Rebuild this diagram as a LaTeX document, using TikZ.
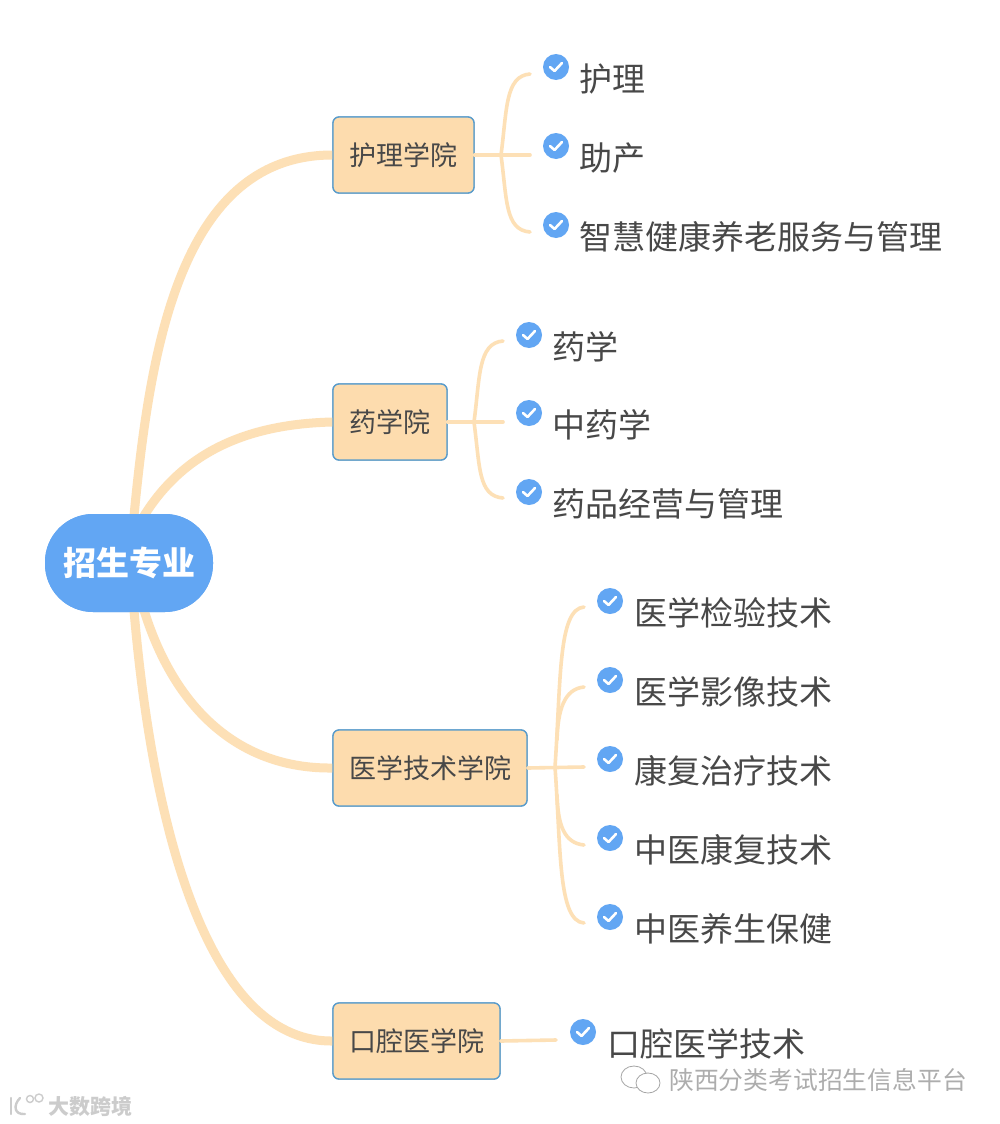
\documentclass[tikz,border=0pt]{standalone}
\usepackage{fontspec}
\setmainfont{Noto Sans CJK SC}
\newfontfamily\cjkbold{Noto Sans CJK SC Bold}
\definecolor{linkc}{HTML}{FDE0B6}
\definecolor{boxfill}{HTML}{FDDCAE}
\definecolor{boxline}{HTML}{5A9CCB}
\definecolor{rootc}{HTML}{62A6F3}
\definecolor{txtc}{HTML}{484848}
\tikzset{
 mainlink/.style={draw=linkc,line width=9pt,line cap=round},
 sublink/.style={draw=linkc,line width=3.6pt,line cap=round},
 rootnode/.style={fill=rootc,rounded corners=48pt,minimum width=168pt,minimum height=98pt,inner sep=0pt,text=white,font={\fontsize{33}{33}\selectfont\bfseries}},
 catnode/.style={draw=boxline,line width=1.3pt,fill=boxfill,rounded corners=6pt,minimum height=76pt,inner sep=0pt,text=txtc,font=\fontsize{27}{27}\selectfont},
 leafnode/.style={anchor=west,inner sep=0pt,text=txtc,font=\fontsize{33}{33}\selectfont},
 icon/.style={circle,fill=rootc,minimum size=26pt,inner sep=0pt},
 tick/.style={draw=white,line width=2.6pt,line cap=round,line join=round},
 wmark/.style={anchor=west,inner sep=0pt,text=black!32,font=\fontsize{24.8}{25}\selectfont},
 wmarkb/.style={anchor=west,inner sep=0pt,text=black!20,font=\fontsize{21}{21}\selectfont\bfseries},
 wline/.style={draw=black!35,line width=.8pt,fill=white}
}
\newcommand{\leafitem}[5]{%
 \node[icon] (#1i) at (#2,#4) {};
 \draw[tick] ($(#1i)+(-6,0)$) -- ($(#1i)+(-1.5,4)$) -- ($(#1i)+(6,-4)$);
 \node[leafnode] (#1) at (#3,#4+12) {#5};
}
\usetikzlibrary{calc}
\begin{document}
\begin{tikzpicture}[x=1pt,y=-1pt]
\useasboundingbox[fill=white] (0,0) rectangle (1000,1124);
\node[rootnode] (root) at (129,563) {招生专业};
\node[catnode,minimum width=141pt] (c1) at (403.5,155) {护理学院};
\node[catnode,minimum width=114pt] (c2) at (390,422) {药学院};
\node[catnode,minimum width=194pt] (c3) at (430,768) {医学技术学院};
\node[catnode,minimum width=167pt] (c4) at (416.5,1041) {口腔医学院};
\coordinate (r1) at ($(root.north)+(5,2)$);
\coordinate (r2) at ($(root.north)+(15,2)$);
\coordinate (r3) at ($(root.south)+(15,-2)$);
\coordinate (r4) at ($(root.south)+(5,-2)$);
\begin{scope}[on background layer/.try]
\end{scope}
\draw[mainlink] (r1) .. controls (150,350) and (180,155) .. (c1.west);
\draw[mainlink] (r2) .. controls (185,450) and (250,424) .. (c2.west);
\draw[mainlink] (r3) .. controls (175,710) and (240,769) .. (c3.west);
\draw[mainlink] (r4) .. controls (150,800) and (200,1042) .. (c4.west);
\node[rootnode] at (root) {招生专业};
\node[catnode,minimum width=141pt] at (c1) {护理学院};
\node[catnode,minimum width=114pt] at (c2) {药学院};
\node[catnode,minimum width=194pt] at (c3) {医学技术学院};
\node[catnode,minimum width=167pt] at (c4) {口腔医学院};
% first group
\coordinate (a1) at (530,74); \coordinate (a2) at (530,155); \coordinate (a3) at (530,232); \coordinate (aj) at (501,155);
\draw[sublink] (c1.east) -- (a2);
\draw[sublink] (a1) .. controls (505,76) and (507,110) .. (aj) .. controls (507,200) and (505,230) .. (a3);
% second group
\coordinate (b1) at (503,341); \coordinate (b2) at (503,422); \coordinate (b3) at (503,498); \coordinate (bj) at (474,422);
\draw[sublink] (c2.east) -- (b2);
\draw[sublink] (b1) .. controls (478,343) and (480,377) .. (bj) .. controls (480,467) and (478,496) .. (b3);
% third group
\coordinate (d1) at (584,607); \coordinate (d2) at (584,687); \coordinate (d3) at (584,767); \coordinate (d4) at (584,845); \coordinate (d5) at (584,923); \coordinate (dj) at (555,767);
\draw[sublink] (c3.east) -- (d3);
\draw[sublink] (d1) .. controls (558,609) and (561,680) .. (dj) .. controls (561,850) and (558,921) .. (d5);
\draw[sublink] (d2) .. controls (564,689) and (558,710) .. (557,740);
\draw[sublink] (d4) .. controls (564,843) and (558,825) .. (557,795);
% fourth
\coordinate (e1) at (556,1040);
\draw[sublink] (c4.east) -- (e1);
% leaves
\leafitem{l1}{556}{579}{67}{护理}
\leafitem{l2}{556}{579}{146}{助产}
\leafitem{l3}{556}{579}{225}{智慧健康养老服务与管理}
\leafitem{l4}{529}{552}{335}{药学}
\leafitem{l5}{529}{552}{413}{中药学}
\leafitem{l6}{529}{552}{492}{药品经营与管理}
\leafitem{l7}{610}{634}{601}{医学检验技术}
\leafitem{l8}{610}{634}{680}{医学影像技术}
\leafitem{l9}{610}{634}{759}{康复治疗技术}
\leafitem{l10}{610}{634}{838}{中医康复技术}
\leafitem{l11}{610}{634}{917}{中医养生保健}
\leafitem{l12}{583}{607}{1032}{口腔医学技术}
% watermarks
\node[wmark] (wm1) at (669,1080) {陕西分类考试招生信息平台};
\draw[wline] (634,1077) ellipse (13 and 11);
\draw[wline] (648,1083) ellipse (12 and 10);
\node[wmarkb] (wm2) at (48,1106) {大数跨境};
\draw[draw=black!20,line width=2.4pt,line cap=round] (11,1098) -- (11,1114);
\draw[draw=black!20,line width=2.4pt,line cap=round] (20,1098) .. controls (13,1105) and (14,1115) .. (25,1114);
\draw[draw=black!20,line width=1.4pt] (30,1099) circle (3.5);
\draw[draw=black!20,line width=1.4pt] (39,1098) circle (4);
\end{tikzpicture}
\end{document}
